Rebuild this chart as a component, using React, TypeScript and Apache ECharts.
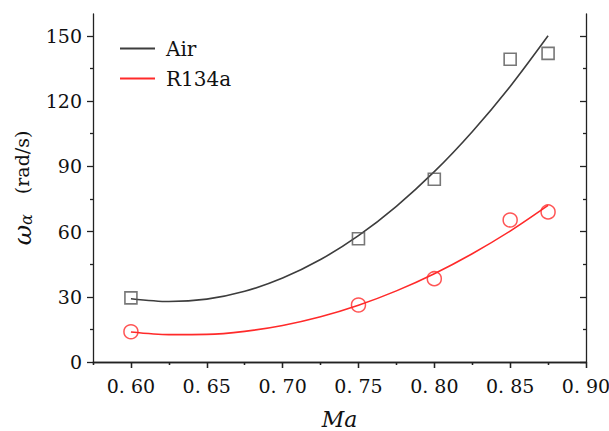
import React, { useEffect, useRef } from "react";
import * as echarts from "echarts";

// Measured data points
const maPoints = [0.6, 0.75, 0.8, 0.85, 0.875];
const airData = [29.5, 56.7, 84.0, 139.2, 141.9];
const r134aData = [13.9, 26.2, 38.3, 65.3, 69.0];

// Fit curves
const fitMa = [0.6, 0.625, 0.65, 0.675, 0.7, 0.725, 0.75, 0.775, 0.8, 0.825, 0.85, 0.875];
const airFit = [29.1, 27.8, 28.9, 32.5, 38.6, 47.1, 58.1, 71.6, 87.5, 105.9, 126.7, 150.0];
const r134aFit = [13.8, 12.6, 12.7, 14.1, 16.8, 20.8, 26.1, 32.7, 40.6, 49.8, 60.2, 72.0];

// Tick values
const xMajor = [0.6, 0.65, 0.7, 0.75, 0.8, 0.85, 0.9];
const xMinor = [0.575, 0.625, 0.675, 0.725, 0.775, 0.825, 0.875];
const yMajor = [0, 30, 60, 90, 120, 150];
const yMinor = [15, 45, 75, 105, 135];

const FONT = "DejaVu Serif";
const AXIS_COLOR = "#222";

export default function App() {
  const ref = useRef<HTMLDivElement>(null);

  useEffect(() => {
    if (!ref.current) return;
    const chart = echarts.init(ref.current, undefined, { renderer: "svg" });

    const lineStyle = { color: AXIS_COLOR, width: 1.3 };
    const xBase = { type: "value", min: 0.575, max: 0.9, splitLine: { show: false } };
    const yBase = { type: "value", min: 0, max: 160, splitLine: { show: false } };

    const option: any = {
      animation: false,
      backgroundColor: "#fff",
      grid: { left: 93, right: 23, top: 14, bottom: 69, containLabel: false, outerBoundsMode: "none" },
      legend: {
        data: ["Air", "R134a"],
        orient: "vertical",
        left: 115,
        top: 32,
        icon: "rect",
        itemWidth: 35,
        itemHeight: 2,
        itemGap: 7,
        textStyle: { fontFamily: FONT, fontSize: 20, color: "#111", lineHeight: 23, padding: [0, 0, 0, 6] },
      },
      xAxis: [
        {
          ...xBase,
          position: "bottom",
          axisLine: { show: true, lineStyle },
          axisTick: { show: true, customValues: xMajor, length: 6, lineStyle },
          axisLabel: {
            show: true,
            customValues: xMajor,
            margin: 14,
            fontFamily: FONT,
            fontSize: 19,
            color: "#111",
            formatter: (v: number) => v.toFixed(2).replace(".", ". "),
          },
          name: "Ma",
          nameLocation: "middle",
          nameGap: 46,
          nameTextStyle: { fontFamily: FONT, fontSize: 22, fontStyle: "italic", color: "#111" },
        },
        {
          ...xBase,
          position: "bottom",
          axisLine: { show: false },
          axisTick: { show: true, customValues: xMinor, length: 3, lineStyle },
          axisLabel: { show: false },
        },
        {
          ...xBase,
          position: "top",
          axisLine: { show: true, lineStyle },
          axisTick: { show: true, inside: true, customValues: xMajor, length: 6, lineStyle },
          axisLabel: { show: false },
        },
        {
          ...xBase,
          position: "top",
          axisLine: { show: false },
          axisTick: { show: true, inside: true, customValues: xMinor, length: 3, lineStyle },
          axisLabel: { show: false },
        },
      ],
      yAxis: [
        {
          ...yBase,
          position: "left",
          axisLine: { show: true, lineStyle },
          axisTick: { show: true, customValues: yMajor, length: 6, lineStyle },
          axisLabel: {
            show: true,
            customValues: yMajor,
            margin: 11,
            fontFamily: FONT,
            fontSize: 19,
            color: "#111",
          },
          name: "{w|ω}{a|α}{s| }{r|(rad/s)}",
          nameLocation: "middle",
          nameGap: 57,
          nameRotate: 90,
          nameTextStyle: {
            fontFamily: FONT,
            color: "#111",
            rich: {
              w: { fontFamily: FONT, fontSize: 25, fontStyle: "italic", color: "#111" },
              a: { fontFamily: FONT, fontSize: 16, fontStyle: "italic", color: "#111", padding: [8, 0, 0, 0] },
              s: { fontFamily: FONT, fontSize: 18, width: 20 },
              r: { fontFamily: FONT, fontSize: 19, color: "#111" },
            },
          },
        },
        {
          ...yBase,
          position: "left",
          axisLine: { show: false },
          axisTick: { show: true, customValues: yMinor, length: 3, lineStyle },
          axisLabel: { show: false },
        },
        {
          ...yBase,
          position: "right",
          axisLine: { show: true, lineStyle },
          axisTick: { show: true, inside: true, customValues: yMajor, length: 6, lineStyle },
          axisLabel: { show: false },
        },
        {
          ...yBase,
          position: "right",
          axisLine: { show: false },
          axisTick: { show: true, inside: true, customValues: yMinor, length: 3, lineStyle },
          axisLabel: { show: false },
        },
      ],
      series: [
        {
          name: "Air",
          type: "line",
          data: fitMa.map((x, i) => [x, airFit[i]]),
          smooth: 0.3,
          symbol: "none",
          lineStyle: { color: "#3d3d3d", width: 1.6 },
          itemStyle: { color: "#3d3d3d" },
          z: 3,
        },
        {
          name: "R134a",
          type: "line",
          data: fitMa.map((x, i) => [x, r134aFit[i]]),
          smooth: 0.3,
          symbol: "none",
          lineStyle: { color: "#ff2a2a", width: 1.6 },
          itemStyle: { color: "#ff2a2a" },
          z: 3,
        },
        {
          name: "Air data",
          type: "scatter",
          data: maPoints.map((x, i) => [x, airData[i]]),
          symbol: "rect",
          symbolSize: 12,
          itemStyle: { color: "rgba(0,0,0,0)", borderColor: "#555", borderWidth: 1.6 },
          z: 4,
        },
        {
          name: "R134a data",
          type: "scatter",
          data: maPoints.map((x, i) => [x, r134aData[i]]),
          symbol: "circle",
          symbolSize: 14,
          itemStyle: { color: "rgba(0,0,0,0)", borderColor: "#ff2a2a", borderWidth: 1.5 },
          z: 4,
        },
      ],
    };

    chart.setOption(option);
    return () => chart.dispose();
  }, []);

  return (
    <div
      ref={ref}
      style={{ position: "absolute", left: 0, top: 0, width: 609, height: 431, background: "#fff" }}
    />
  );
}
